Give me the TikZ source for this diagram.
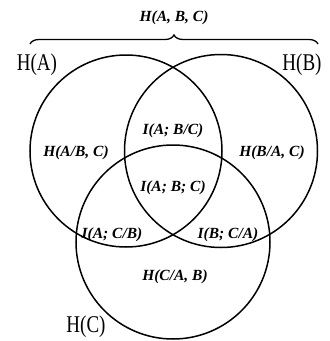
\documentclass[tikz,border=0pt]{standalone}
\usepackage{fontspec}
\setmainfont{Liberation Serif}
\usetikzlibrary{decorations.pathreplacing}
\begin{document}
\begin{tikzpicture}[x=1pt,y=-1pt,
  circ/.style={draw=black,line width=1.5pt},
  inl/.style={font=\fontsize{15.5}{18}\selectfont\bfseries\itshape,inner sep=0pt},
  setl/.style={font=\fontsize{20}{24}\selectfont\rmfamily,inner sep=0pt,yscale=1.2,xscale=0.95}]
\useasboundingbox (0,0) rectangle (330,341);
\node[circ,circle,minimum size=192pt,inner sep=0pt] (A) at (126,151) {};
\node[circ,circle,minimum size=193pt,inner sep=0pt] (B) at (221,151) {};
\node[circ,circle,minimum size=194pt,inner sep=0pt] (C) at (173,242) {};
\node[setl] (la) at (37,65) {H(A)};
\node[setl] (lb) at (302,65) {H(B)};
\node[setl] (lc) at (86,327) {H(C)};
\coordinate (bl) at (30,44);
\coordinate (br) at (318,44);
\draw[line width=1.3pt,decorate,decoration={brace,amplitude=9pt}] (bl) -- (br);
\node[inl] (abc) at (174,18) {H(A, B, C)};
\node[inl] (i1) at (173,131) {I(A; B/C)};
\node[inl] (h1) at (76,153) {H(A/B, C)};
\node[inl] (h2) at (272,153) {H(B/A, C)};
\node[inl] (i0) at (173,188) {I(A; B; C)};
\node[inl] (i2) at (112,235) {I(A; C/B)};
\node[inl] (i3) at (228,235) {I(B; C/A)};
\node[inl] (h3) at (175,277) {H(C/A, B)};
\end{tikzpicture}
\end{document}
